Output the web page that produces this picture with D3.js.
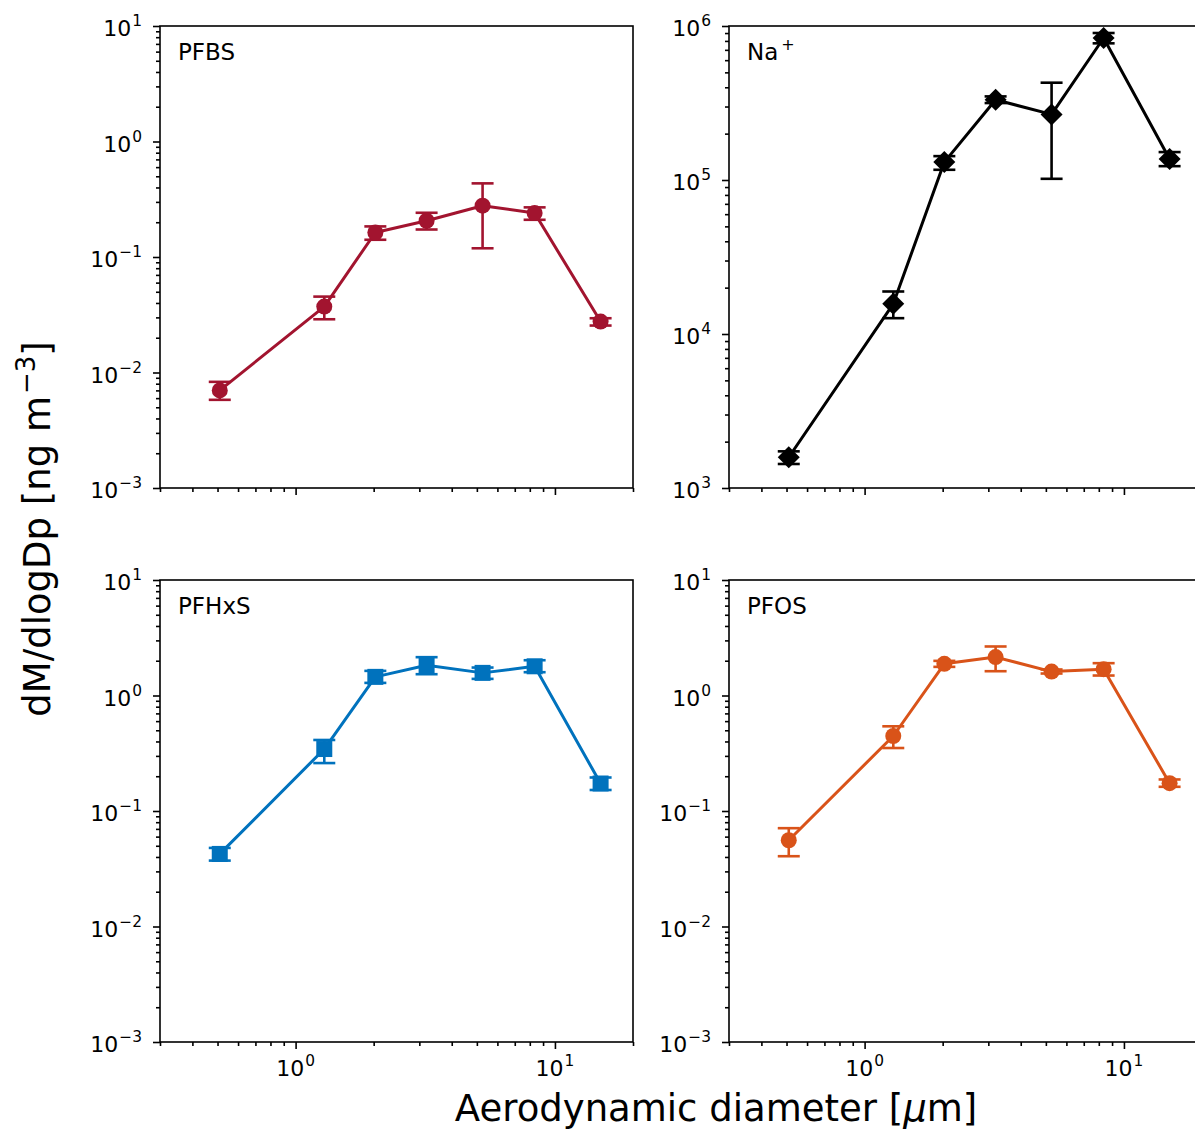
<!DOCTYPE html>
<html><head><meta charset="utf-8">
<script src="https://cdn.jsdelivr.net/npm/d3@7"></script>
<style>body{margin:0;background:#fff} text{font-family:"DejaVu Sans",sans-serif;fill:#000}</style>
</head><body><svg id="c" width="1195" height="1131" xmlns="http://www.w3.org/2000/svg"></svg>
<script>
// ---- data ----
const diameters = [0.51, 1.29, 2.03, 3.2, 5.26, 8.35, 15.0];

const pfbsValues = [0.0070, 0.0372, 0.163, 0.206, 0.278, 0.240, 0.0276];
const pfbsLow    = [0.0058, 0.0289, 0.141, 0.173, 0.119, 0.210, 0.0255];
const pfbsHigh   = [0.0083, 0.0454, 0.184, 0.2415, 0.434, 0.269, 0.0295];

const naValues = [1583, 15700, 130700, 332000, 266600, 836000, 136700];
const naLow    = [1432, 12670, 116500, 316000, 101800, 771700, 123000];
const naHigh   = [1730, 18880, 142900, 349000, 428400, 900600, 151800];

const pfhxsValues = [0.0425, 0.344, 1.45, 1.83, 1.57, 1.79, 0.173];
const pfhxsLow    = [0.0372, 0.260, 1.286, 1.529, 1.393, 1.591, 0.152];
const pfhxsHigh   = [0.0479, 0.412, 1.634, 2.147, 1.746, 2.02, 0.195];

const pfosValues = [0.0558, 0.446, 1.88, 2.15, 1.61, 1.69, 0.174];
const pfosLow    = [0.0406, 0.351, 1.77, 1.623, 1.55, 1.489, 0.162];
const pfosHigh   = [0.0710, 0.541, 1.995, 2.657, 1.68, 1.905, 0.1875];

const panelNames = ["PFBS", "Na", "PFHxS", "PFOS"];
const xMajorTicks = [1, 10];
const xTickExponents = ["0", "1"];
const xLabel = "Aerodynamic diameter [";
const yLabel = "dM/dlogDp [ng m";

// ---- layout ----
const svg = d3.select("#c");
const W = 473, H = 462;
const colX = [160, 729], rowY = [26, 580];
const FS = 22;

const panels = [
  {name:panelNames[0], v:pfbsValues, lo:pfbsLow, hi:pfbsHigh, color:"#A2142F", marker:"circle", yd:[1e-3,1e1], col:0, row:0},
  {name:panelNames[1], sup:"+", v:naValues, lo:naLow, hi:naHigh, color:"#000000", marker:"diamond", yd:[1e3,1e6], col:1, row:0},
  {name:panelNames[2], v:pfhxsValues, lo:pfhxsLow, hi:pfhxsHigh, color:"#0072BD", marker:"square", yd:[1e-3,1e1], col:0, row:1},
  {name:panelNames[3], v:pfosValues, lo:pfosLow, hi:pfosHigh, color:"#D95319", marker:"circle", yd:[1e-3,1e1], col:1, row:1},
];

function powLabel(sel, exp){
  sel.append("tspan").text("10");
  sel.append("tspan").attr("font-size", FS*0.7).attr("dy", -10).attr("dx", 1).text(exp.replace("-", "\u2212"));
}

function minorsFor(lo, hi){
  const out=[];
  for(let e=Math.round(Math.log10(lo)); e<Math.round(Math.log10(hi)); e++){
    for(let m=2;m<=9;m++){ const v=m*Math.pow(10,e); if(v>=lo*0.999 && v<=hi*1.001) out.push(v);}
  }
  return out;
}

panels.forEach(p=>{
  const x0 = colX[p.col], y0 = rowY[p.row];
  const g = svg.append("g").attr("transform",`translate(${x0},${y0})`);
  const x = d3.scaleLog().domain([0.3,20]).range([0,W]);
  const y = d3.scaleLog().domain(p.yd).range([H,0]);

  // x ticks
  const xMinor = [0.3,0.4,0.5,0.6,0.7,0.8,0.9,2,3,4,5,6,7,8,9,20];
  const ax = g.append("g").attr("transform",`translate(0,${H})`);
  ax.call(d3.axisBottom(x).tickValues(xMajorTicks).tickSize(7).tickFormat(""));
  const axm = g.append("g").attr("transform",`translate(0,${H})`);
  axm.call(d3.axisBottom(x).tickValues(xMinor).tickSize(4).tickFormat(""));
  [ax,axm].forEach(a=>{a.select(".domain").remove(); a.selectAll("line").attr("stroke","#000").attr("stroke-width",1.6);});
  if(p.row===1){
    xMajorTicks.forEach((t,i)=>{
      const tx = g.append("text").attr("x", x(t)).attr("y", H+34).attr("text-anchor","middle").attr("font-size",FS);
      powLabel(tx, xTickExponents[i]);
    });
  }

  // y ticks
  const e0 = Math.round(Math.log10(p.yd[0])), e1 = Math.round(Math.log10(p.yd[1]));
  const yMajor = d3.range(e0, e1+1).map(e=>Math.pow(10,e));
  const ay = g.append("g").call(d3.axisLeft(y).tickValues(yMajor).tickSize(7).tickFormat(""));
  const aym = g.append("g").call(d3.axisLeft(y).tickValues(minorsFor(p.yd[0],p.yd[1])).tickSize(4).tickFormat(""));
  [ay,aym].forEach(a=>{a.select(".domain").remove(); a.selectAll("line").attr("stroke","#000").attr("stroke-width",1.6);});
  yMajor.forEach(t=>{
    const ty = g.append("text").attr("x",-18).attr("y", y(t)+10).attr("text-anchor","end").attr("font-size",FS);
    powLabel(ty, String(Math.round(Math.log10(t))));
  });

  // frame
  g.append("rect").attr("x",0).attr("y",0).attr("width",W).attr("height",H)
    .attr("fill","none").attr("stroke","#000").attr("stroke-width",1.6);

  // data
  const pts = diameters.map((d,i)=>({d, v:p.v[i], lo:p.lo[i], hi:p.hi[i]}));
  g.append("path").datum(pts)
    .attr("d", d3.line().x(q=>x(q.d)).y(q=>y(q.v)))
    .attr("fill","none").attr("stroke",p.color).attr("stroke-width",3).attr("stroke-linejoin","round");
  const eb = g.append("g").attr("stroke",p.color).attr("stroke-width",2.6);
  pts.forEach(q=>{
    const cx = x(q.d);
    eb.append("line").attr("x1",cx).attr("x2",cx).attr("y1",y(q.lo)).attr("y2",y(q.hi));
    eb.append("line").attr("x1",cx-11).attr("x2",cx+11).attr("y1",y(q.lo)).attr("y2",y(q.lo));
    eb.append("line").attr("x1",cx-11).attr("x2",cx+11).attr("y1",y(q.hi)).attr("y2",y(q.hi));
  });
  const mk = g.append("g").attr("fill",p.color);
  pts.forEach(q=>{
    const cx=x(q.d), cy=y(q.v);
    if(p.marker==="circle") mk.append("circle").attr("cx",cx).attr("cy",cy).attr("r",8);
    else if(p.marker==="square") mk.append("rect").attr("x",cx-8).attr("y",cy-8).attr("width",16).attr("height",16);
    else mk.append("path").attr("d",`M${cx},${cy-11}L${cx+11},${cy}L${cx},${cy+11}L${cx-11},${cy}Z`);
  });

  // panel label
  const lt = g.append("text").attr("x",18).attr("y",34).attr("font-size",23);
  lt.append("tspan").text(p.name);
  if(p.sup) lt.append("tspan").attr("font-size",16).attr("dy",-10).attr("dx",3).text(p.sup);
});

// axis labels
const xl = svg.append("text").attr("x",716).attr("y",1121).attr("text-anchor","middle").attr("font-size",37);
xl.append("tspan").text(xLabel);
xl.append("tspan").attr("font-style","italic").text("\u03bc");
xl.append("tspan").text("m]");

const yl = svg.append("text").attr("transform","translate(50,529) rotate(-90)").attr("text-anchor","middle").attr("font-size",37);
yl.append("tspan").text(yLabel);
yl.append("tspan").attr("font-size",26).attr("dy",-15).attr("dx",2).text("\u22123");
yl.append("tspan").attr("dy",15).text("]");
</script></body></html>
